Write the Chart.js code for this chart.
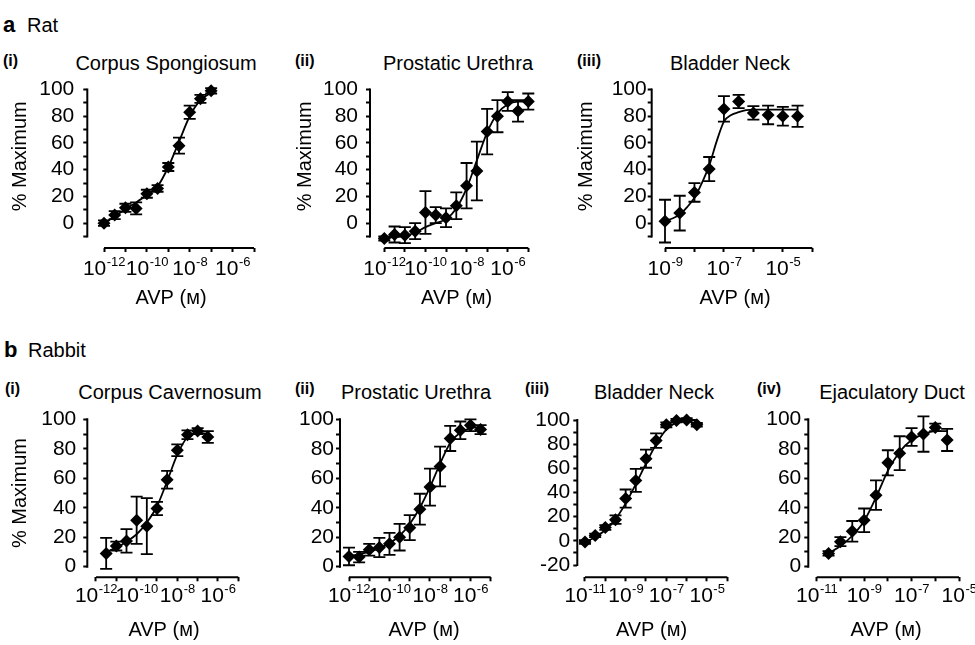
<!DOCTYPE html>
<html><head><meta charset="utf-8">
<script src="https://cdn.jsdelivr.net/npm/chart.js@4.4.1/dist/chart.umd.min.js"></script>
<style>
html,body{margin:0;padding:0;background:#fff;}
body{width:975px;height:645px;position:relative;overflow:hidden;font-family:'Liberation Sans',Arial,sans-serif;color:#000;}
.t{position:absolute;white-space:nowrap;line-height:1;}
.c{transform:translateX(-50%);}
.h{font-size:20px;}
.n{font-size:16px;font-weight:bold;}
.L{font-size:22px;font-weight:bold;}
canvas{position:absolute;}
</style></head><body>
<div class="t L" style="left:3px;top:14px;">a</div>
<div class="t h" style="left:27px;top:15px;">Rat</div>
<div class="t L" style="left:4px;top:339px;">b</div>
<div class="t h" style="left:28px;top:340px;">Rabbit</div>

<div class="t n" style="left:3px;top:53px;">(i)</div>
<div class="t h c" style="left:166px;top:53px;">Corpus Spongiosum</div>
<div class="t n" style="left:295px;top:53px;">(ii)</div>
<div class="t h c" style="left:458px;top:53px;">Prostatic Urethra</div>
<div class="t n" style="left:577px;top:53px;">(iii)</div>
<div class="t h c" style="left:730px;top:53px;">Bladder Neck</div>

<div class="t n" style="left:5px;top:381px;">(i)</div>
<div class="t h c" style="left:170px;top:382px;">Corpus Cavernosum</div>
<div class="t n" style="left:295px;top:381px;">(ii)</div>
<div class="t h c" style="left:416px;top:382px;">Prostatic Urethra</div>
<div class="t n" style="left:525px;top:381px;">(iii)</div>
<div class="t h c" style="left:654px;top:382px;">Bladder Neck</div>
<div class="t n" style="left:757px;top:381px;">(iv)</div>
<div class="t h c" style="left:892px;top:382px;">Ejaculatory Duct</div>

<script>
// ---------- DATA (log10 of AVP molar concentration, % maximum, s.e.m.) ----------
// a (i) Rat Corpus Spongiosum
const ratCorpusSpongiosumLogM = [-12,-11.5,-11,-10.5,-10,-9.5,-9,-8.5,-8,-7.5,-7];
const ratCorpusSpongiosumMean = [0,6,11.5,11,22,26,42,58,83,93,99];
const ratCorpusSpongiosumSem  = [2,3,3,4.5,3,2.5,3,6,5,3,2];
const ratCorpusSpongiosumFitLogM = [-12,-11.5,-11,-10.5,-10,-9.5,-9,-8.5,-8,-7.5,-7,-6.85];
const ratCorpusSpongiosumFit     = [0,5,10.5,15.5,21,27.5,42,61,80,92,97.5,99];
// a (ii) Rat Prostatic Urethra
const ratProstaticUrethraLogM = [-12,-11.5,-11,-10.5,-10,-9.5,-9,-8.5,-8,-7.5,-7,-6.5,-6,-5.5,-5];
const ratProstaticUrethraMean = [-11.5,-8.5,-9,-6,8,6,4,13,28,39,68.5,80,91,84,91];
const ratProstaticUrethraSem  = [1.5,6,6,6,16,6,7,10,17,22,17,12,7,8,6];
const ratProstaticUrethraFitLogM = [-12,-11.5,-11,-10.5,-10,-9.5,-9,-8.5,-8,-7.5,-7,-6.5,-6,-5.5,-5];
const ratProstaticUrethraFit     = [-11,-10.5,-9.5,-7,-3,0,3,11,26,47,68,82,89,91,91];
// a (iii) Rat Bladder Neck
const ratBladderNeckLogM = [-9,-8.5,-8,-7.5,-7,-6.5,-6,-5.5,-5,-4.5];
const ratBladderNeckMean = [1.5,7.5,23,40.5,85.5,91,82.5,81,80,80];
const ratBladderNeckSem  = [16,13,7,9,9.5,5,5,7,7,8];
const ratBladderNeckFitLogM = [-9,-8.75,-8.5,-8.25,-8,-7.75,-7.5,-7.25,-7,-6.75,-6.5,-6.25,-6,-5.5,-5,-4.5];
const ratBladderNeckFit     = [2,3.5,6.5,12,19,30,43,61,76,81,83,84.5,85,85,85,85];
// b (i) Rabbit Corpus Cavernosum
const rabbitCorpusCavernosumLogM = [-11.5,-11,-10.5,-10,-9.5,-9,-8.5,-8,-7.5,-7,-6.5];
const rabbitCorpusCavernosumMean = [9,14,17.5,31.5,27.5,39.5,59,79,89.5,92,88];
const rabbitCorpusCavernosumSem  = [10.5,3,8,16,19,4.5,6,4,3,2,4];
const rabbitCorpusCavernosumFitLogM = [-11.5,-11,-10.5,-10,-9.5,-9,-8.5,-8,-7.5,-7,-6.5];
const rabbitCorpusCavernosumFit     = [10,13,17,22,30,41,58,76,88,91,90];
// b (ii) Rabbit Prostatic Urethra
const rabbitProstaticUrethraLogM = [-12,-11.5,-11,-10.5,-10,-9.5,-9,-8.5,-8,-7.5,-7,-6.5,-6,-5.5];
const rabbitProstaticUrethraMean = [7,6.5,11.5,13,15.5,20,26.5,39,54,68,87,92.5,96,93];
const rabbitProstaticUrethraSem  = [6,3.5,4,6.5,7.5,9,8.5,10.5,12.5,13.5,8.5,6,4,3];
const rabbitProstaticUrethraFitLogM = [-12,-11.5,-11,-10.5,-10,-9.5,-9,-8.5,-8,-7.5,-7,-6.5,-6,-5.5];
const rabbitProstaticUrethraFit     = [7,8.5,10,12.5,16,21,29,40,54,70,84,91,94,95];
// b (iii) Rabbit Bladder Neck
const rabbitBladderNeckLogM = [-11,-10.5,-10,-9.5,-9,-8.5,-8,-7.5,-7,-6.5,-6,-5.5];
const rabbitBladderNeckMean = [-1,4.5,11,17.5,35,50,68,83,96,99.5,100,96];
const rabbitBladderNeckSem  = [1.5,1.5,2,3.5,7.5,9.5,7.5,6,2,1.5,1.5,1.5];
const rabbitBladderNeckFitLogM = [-11,-10.5,-10,-9.5,-9,-8.5,-8,-7.5,-7,-6.5,-6,-5.5];
const rabbitBladderNeckFit     = [-1,3,9,18,31,47,64,80,92,98,100,100];
// b (iv) Rabbit Ejaculatory Duct
const rabbitEjaculatoryDuctLogM = [-10.5,-10,-9.5,-9,-8.5,-8,-7.5,-7,-6.5,-6,-5.5];
const rabbitEjaculatoryDuctMean = [9,17,24,31.5,48.5,70.5,77,88,90,94.5,86];
const rabbitEjaculatoryDuctSem  = [1.5,3,7,8,10,8.5,11.5,6,12,2.5,7.5];
const rabbitEjaculatoryDuctFitLogM = [-10.5,-10,-9.5,-9,-8.5,-8,-7.5,-7,-6.5,-6,-5.5];
const rabbitEjaculatoryDuctFit     = [9,14,21,31,47,65,78,86,90,92,92];

// tick labels (exponents of 10 that carry a label on the x axis; values on the y axis)
const xLabelsWide   = [-12,-10,-8,-6];
const xLabelsRatBN  = [-9,-7,-5];
const xLabelsRabbit = [-11,-9,-7,-5];
const yLabelsStd    = [0,20,40,60,80,100];
const yLabelsNeg    = [-20,0,20,40,60,80,100];
const yTitleText = '% Maximum';
const xTitleText = 'AVP (\u1D0D)';

// ---------- LAYOUT ----------
const FONT = "'Liberation Sans', Arial, sans-serif";
Chart.defaults.font.family = FONT;
Chart.defaults.color = '#000';

const panels = [
 {canvas:[0,70,280,250], yAxisX:87.3, xStart:104, xEnd:254, xLo:-12, xHi:-5, xLabels:xLabelsWide,
  yTop:89.5, yBot:236.5, xAxisY:248, yMin:-10, yLabels:yLabelsStd, pad:9, yTitleX:20, xTitleX:171, xTitleY:298, lblDy:27,
  logM:ratCorpusSpongiosumLogM, mean:ratCorpusSpongiosumMean, sem:ratCorpusSpongiosumSem, fitLogM:ratCorpusSpongiosumFitLogM, fit:ratCorpusSpongiosumFit},
 {canvas:[290,70,270,250], yAxisX:370, xStart:384.3, xEnd:528.3, xLo:-12, xHi:-5, xLabels:xLabelsWide,
  yTop:89.5, yBot:236.5, xAxisY:248, yMin:-10, yLabels:yLabelsStd, pad:8, yTitleX:305, xTitleX:456.7, xTitleY:298, lblDy:27,
  logM:ratProstaticUrethraLogM, mean:ratProstaticUrethraMean, sem:ratProstaticUrethraSem, fitLogM:ratProstaticUrethraFitLogM, fit:ratProstaticUrethraFit},
 {canvas:[565,70,275,250], yAxisX:651.7, xStart:665, xEnd:812.3, xLo:-9, xHi:-4, xLabels:xLabelsRatBN,
  yTop:89.5, yBot:236.5, xAxisY:248, yMin:-10, yLabels:yLabelsStd, pad:1, yTitleX:586, xTitleX:735, xTitleY:298, lblDy:27,
  logM:ratBladderNeckLogM, mean:ratBladderNeckMean, sem:ratBladderNeckSem, fitLogM:ratBladderNeckFitLogM, fit:ratBladderNeckFit},
 {canvas:[0,400,270,245], yAxisX:87.3, xStart:96, xEnd:238.3, xLo:-12, xHi:-5, xLabels:xLabelsWide,
  yTop:419.3, yBot:566.7, xAxisY:577.3, yMin:0, yLabels:yLabelsStd, pad:7, yTitleX:20, xTitleX:164, xTitleY:630, lblDy:25,
  logM:rabbitCorpusCavernosumLogM, mean:rabbitCorpusCavernosumMean, sem:rabbitCorpusCavernosumSem, fitLogM:rabbitCorpusCavernosumFitLogM, fit:rabbitCorpusCavernosumFit},
 {canvas:[260,400,255,245], yAxisX:340, xStart:349, xEnd:490.7, xLo:-12, xHi:-5, xLabels:xLabelsWide,
  yTop:419.3, yBot:566.7, xAxisY:577.3, yMin:0, yLabels:yLabelsStd, pad:2, yTitleX:null, xTitleX:424, xTitleY:630, lblDy:25,
  logM:rabbitProstaticUrethraLogM, mean:rabbitProstaticUrethraMean, sem:rabbitProstaticUrethraSem, fitLogM:rabbitProstaticUrethraFitLogM, fit:rabbitProstaticUrethraFit},
 {canvas:[500,400,255,245], yAxisX:577.3, xStart:585, xEnd:727.3, xLo:-11, xHi:-4, xLabels:xLabelsRabbit,
  yTop:420, yBot:565, xAxisY:577.3, yMin:-20, yLabels:yLabelsNeg, pad:3, yTitleX:null, xTitleX:651.5, xTitleY:630, lblDy:25,
  logM:rabbitBladderNeckLogM, mean:rabbitBladderNeckMean, sem:rabbitBladderNeckSem, fitLogM:rabbitBladderNeckFitLogM, fit:rabbitBladderNeckFit},
 {canvas:[740,400,235,245], yAxisX:808.3, xStart:816.7, xEnd:959, xLo:-11, xHi:-5, xLabels:xLabelsRabbit,
  yTop:419.3, yBot:566.7, xAxisY:577.3, yMin:0, yLabels:yLabelsStd, pad:3, yTitleX:null, xTitleX:886, xTitleY:630, lblDy:25,
  logM:rabbitEjaculatoryDuctLogM, mean:rabbitEjaculatoryDuctMean, sem:rabbitEjaculatoryDuctSem, fitLogM:rabbitEjaculatoryDuctFitLogM, fit:rabbitEjaculatoryDuctFit}
];

function build(p){
  const [L,T,W,H] = p.canvas;
  const cv = document.createElement('canvas');
  cv.width = W; cv.height = H;
  cv.style.left = L+'px'; cv.style.top = T+'px'; cv.style.width = W+'px'; cv.style.height = H+'px';
  document.body.appendChild(cv);

  const decadePx = (p.xEnd - p.xStart) / (p.xHi - p.xLo);
  const xMinExp = p.xLo - (p.xStart - p.yAxisX) / decadePx;
  const pxPerUnit = (p.yBot - p.yTop) / (100 - p.yMin);
  const yMinExt = p.yMin - (p.xAxisY - p.yBot) / pxPerUnit;
  const yScaleW = p.yAxisX - L;
  const xScaleH = T + H - p.xAxisY;

  const xTickExps = [];
  for (let e = p.xLo; e <= p.xHi; e++) xTickExps.push(e);
  const yTickVals = [];
  for (let v = p.yMin; v <= 100; v += 10) yTickVals.push(v);

  const deco = {
    id: 'deco',
    afterDatasetsDraw(chart){
      const ctx = chart.ctx, xs = chart.scales.x, ys = chart.scales.y, ca = chart.chartArea;
      ctx.save();
      ctx.strokeStyle = '#000';
      ctx.lineWidth = 2;
      ctx.beginPath();
      ctx.moveTo(xs.getPixelForValue(Math.pow(10, p.xLo)), ca.bottom);
      ctx.lineTo(xs.getPixelForValue(Math.pow(10, p.xHi)), ca.bottom);
      ctx.moveTo(ca.left, ys.getPixelForValue(100) - 1);
      ctx.lineTo(ca.left, ys.getPixelForValue(p.yMin) + 1);
      ctx.stroke();
      // error bars
      ctx.lineWidth = 1.8;
      p.logM.forEach((e, i) => {
        const x = xs.getPixelForValue(Math.pow(10, e));
        const yt = ys.getPixelForValue(p.mean[i] + p.sem[i]);
        const yb = ys.getPixelForValue(p.mean[i] - p.sem[i]);
        ctx.beginPath();
        ctx.moveTo(x, yt); ctx.lineTo(x, yb);
        ctx.moveTo(x - 6, yt); ctx.lineTo(x + 6, yt);
        ctx.moveTo(x - 6, yb); ctx.lineTo(x + 6, yb);
        ctx.stroke();
      });
      ctx.fillStyle = '#000';
      // x tick labels: 10 with superscript exponent, placed at the scale's tick pixels
      ctx.textAlign = 'left';
      ctx.textBaseline = 'alphabetic';
      const baseY = ca.bottom + p.lblDy;
      p.xLabels.forEach(e => {
        const x = xs.getPixelForValue(Math.pow(10, e));
        ctx.font = '21px ' + FONT;
        const wb = ctx.measureText('10').width;
        ctx.font = '13px ' + FONT;
        const es = String(e);
        const we = ctx.measureText(es).width;
        const x0 = x - (wb + we) / 2;
        ctx.font = '21px ' + FONT;
        ctx.fillText('10', x0, baseY);
        ctx.font = '13px ' + FONT;
        ctx.fillText(es, x0 + wb + 0.5, baseY - 9);
      });
      // axis titles
      ctx.font = '20px ' + FONT;
      ctx.textAlign = 'center';
      ctx.textBaseline = 'middle';
      if (p.yTitleX !== null) {
        ctx.save();
        ctx.translate(p.yTitleX - L, ys.getPixelForValue(50));
        ctx.rotate(-Math.PI / 2);
        ctx.fillText(yTitleText, 0, 0);
        ctx.restore();
      }
      ctx.fillText(xTitleText, p.xTitleX - L, p.xTitleY - T);
      ctx.restore();
    }
  };

  new Chart(cv, {
    type: 'scatter',
    data: {
      datasets: [
        {type:'line', data: p.fitLogM.map((e,i) => ({x: Math.pow(10,e), y: p.fit[i]})),
         borderColor:'#000', borderWidth:1.8, pointRadius:0, fill:false, cubicInterpolationMode:'monotone', clip:false, order:2},
        {type:'scatter', data: p.logM.map((e,i) => ({x: Math.pow(10,e), y: p.mean[i]})),
         pointStyle:'rectRot', pointRadius:6.5, backgroundColor:'#000', borderColor:'#000', borderWidth:0, clip:false, order:1}
      ]
    },
    options: {
      responsive:false, animation:false, devicePixelRatio:1,
      events: [],
      layout:{padding:{left:0, top:p.yTop - T, right:L + W - p.xEnd, bottom:0}},
      plugins:{legend:{display:false}, tooltip:{enabled:false}},
      scales:{
        x:{
          type:'logarithmic', position:'bottom',
          min: Math.pow(10, xMinExp), max: Math.pow(10, p.xHi),
          afterBuildTicks: s => { s.ticks = xTickExps.map(e => ({value: Math.pow(10, e)})); },
          afterFit: s => { s.height = xScaleH; s.paddingLeft = 0; s.paddingRight = 0; },
          ticks:{autoSkip:false, maxRotation:0, minRotation:0, padding:4, color:'#000', font:{size:21, family:FONT},
                 callback: () => ''},
          grid:{display:true, drawOnChartArea:false, drawTicks:true, tickLength:4, tickWidth:2, tickColor:'#000', color:'#000'},
          border:{display:false}
        },
        y:{
          type:'linear', position:'left', min: yMinExt, max: 100,
          afterBuildTicks: s => { s.ticks = yTickVals.map(v => ({value: v})); },
          afterFit: s => { s.width = yScaleW; s.paddingTop = 0; s.paddingBottom = 0; },
          ticks:{autoSkip:false, padding:p.pad, color:'#000', font:{size:21, family:FONT},
                 callback: v => p.yLabels.includes(v) ? String(v) : ''},
          grid:{display:true, drawOnChartArea:false, drawTicks:true, tickLength:4, tickWidth:2, tickColor:'#000', color:'#000'},
          border:{display:false}
        }
      }
    },
    plugins:[deco]
  });
}
panels.forEach(build);
</script>
</body></html>
